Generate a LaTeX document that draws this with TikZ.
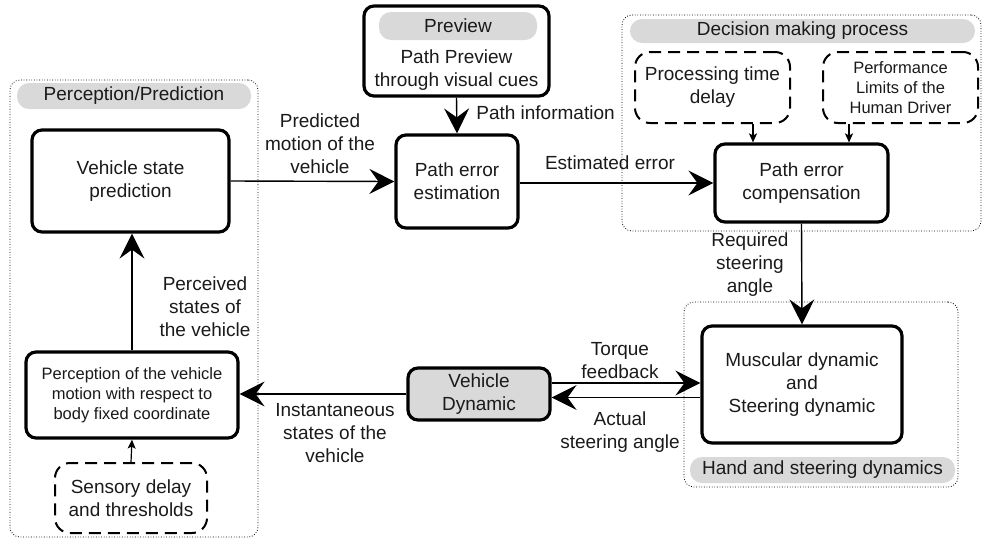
\documentclass[tikz,border=0pt]{standalone}
\usepackage{fontspec}
\setmainfont{Liberation Sans}
\usetikzlibrary{arrows.meta}
\definecolor{pillgray}{HTML}{D9D9D9}
\definecolor{txt}{HTML}{1A1A1A}
\begin{document}
\begin{tikzpicture}[x=1pt,y=-1pt,
  every node/.style={inner sep=0pt,align=center,text=txt,font=\fontsize{19}{23}\selectfont},
  thickbox/.style={draw=black,line width=3.2pt,rounded corners=10pt},
  dashbox/.style={draw=black,line width=2pt,dash pattern=on 12pt off 7pt,rounded corners=15pt},
  grp/.style={draw=black,line width=0.8pt,dash pattern=on 0.8pt off 1.8pt,rounded corners=10pt},
  pill/.style={fill=pillgray,rounded corners=12pt},
  small/.style={font=\fontsize{16.5}{20}\selectfont},
  conn/.style={line width=1.4pt,-{Stealth[length=25pt,width=25pt,inset=9pt]}},
  sconn/.style={line width=1.2pt,-{Stealth[length=9pt,width=8pt,inset=2pt]}},
  lbl/.style={}
]
\useasboundingbox (0,0) rectangle (982,539);
% groups
\node[grp,minimum width=248pt,minimum height=457pt] (grpPP) at (134,308.5) {};
\node[pill,minimum width=234pt,minimum height=26pt] (pillPP) at (134,96) {Perception/Prediction};
\node[grp,minimum width=359pt,minimum height=216pt] (grpDM) at (801.5,123) {};
\node[pill,minimum width=345pt,minimum height=24pt] (pillDM) at (802.5,31) {Decision making process};
\node[grp,minimum width=274pt,minimum height=185pt] (grpHS) at (821,394.5) {};
\node[pill,minimum width=265pt,minimum height=26pt] (pillHS) at (822.5,470) {Hand and steering dynamics};
% boxes
\node[thickbox,minimum width=197pt,minimum height=102pt] (vsp) at (130.5,181) {Vehicle state\\prediction};
\node[thickbox,small,minimum width=212pt,minimum height=86pt] (pvm) at (132,395) {Perception of the vehicle\\motion with respect to\\body fixed coordinate};
\node[dashbox,minimum width=152pt,minimum height=70pt] (sens) at (131,498) {Sensory delay\\and thresholds};
\node[thickbox,minimum width=185pt,minimum height=90pt] (prev) at (456.5,51) {};
\node[pill,minimum width=158pt,minimum height=28pt] (prevpill) at (458,26) {Preview};
\node (prevtxt) at (456.5,70) {Path Preview\\through visual cues};
\node[thickbox,minimum width=122pt,minimum height=93pt] (pee) at (457,181.5) {Path error\\estimation};
\node[dashbox,minimum width=155pt,minimum height=71pt] (ptd) at (712.5,87.5) {Processing time\\delay};
\node[dashbox,small,minimum width=155pt,minimum height=71pt] (plh) at (900.5,87.5) {Performance\\Limits of the\\Human Driver};
\node[thickbox,minimum width=173pt,minimum height=78pt] (pec) at (801.5,183) {Path error\\compensation};
\node[thickbox,minimum width=200pt,minimum height=117pt] (msd) at (802,384.5) {Muscular dynamic\\and\\Steering dynamic};
\node[thickbox,fill=pillgray,minimum width=142pt,minimum height=52pt] (vd) at (479,394) {Vehicle\\Dynamic};
% connectors
\draw[conn] (vsp.east) -- (pee.west);
\draw[conn] (prev.south) -- (pee.north);
\draw[conn] (pee.east |- pec.west) -- (pec.west);
\draw[conn] (pec.south) -- (msd.north);
\coordinate (ptdout) at ([xshift=40.5pt]ptd.south);
\coordinate (plhout) at ([xshift=-51.5pt]plh.south);
\draw[sconn] (ptdout) -- (ptdout |- pec.north);
\draw[sconn] (plhout) -- (plhout |- pec.north);
\draw[conn] ([yshift=11pt]vd.east) -- ([yshift=11pt]vd.east -| msd.west);
\draw[conn] ([yshift=-13pt]msd.west) -- ([yshift=-13pt]msd.west -| vd.east);
\draw[conn] (vd.west) -- (vd.west -| pvm.east);
\draw[conn] (pvm.north) -- (pvm.north |- vsp.south);
\draw[sconn] (sens.north) -- (pvm.south);
% labels
\node[lbl] (l1) at (320,144) {Predicted\\motion of the\\vehicle};
\node[lbl] (l2) at (545.5,113) {Path information};
\node[lbl] (l3) at (610,163) {Estimated error};
\node[lbl] (l4) at (750,265) {Required\\steering\\angle};
\node[lbl] (l5) at (620,361) {Torque\\feedback};
\node[lbl] (l6) at (620,432) {Actual\\steering angle};
\node[lbl] (l7) at (335,433) {Instantaneous\\states of the\\vehicle};
\node[lbl] (l8) at (205,307) {Perceived\\states of\\the vehicle};
\end{tikzpicture}
\end{document}
